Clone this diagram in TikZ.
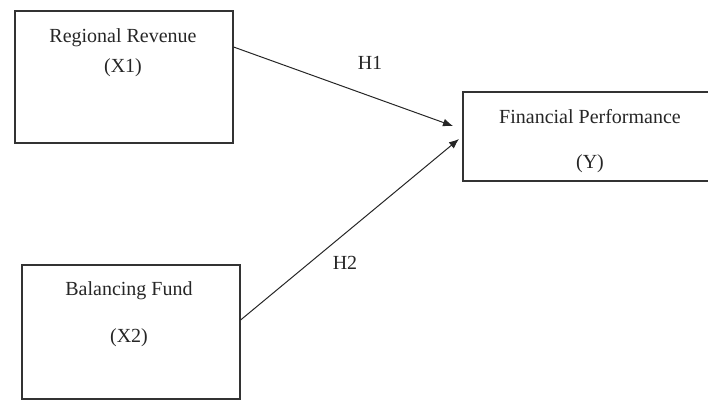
\documentclass[tikz,border=0pt]{standalone}
\usepackage{fontspec}
\setmainfont{Liberation Serif}
\usetikzlibrary{arrows.meta,positioning}

\tikzset{
    varbox/.style={draw=black!80, line width=0.6pt, rectangle, inner sep=0pt},
    vartext/.style={font=\fontsize{10}{12}\selectfont, text=black!85, inner sep=0pt},
    hyparrow/.style={-{Latex[length=5pt,width=4pt]}, line width=0.5pt, black!85}
}

\begin{document}
\begin{tikzpicture}[x=0.5pt,y=-0.5pt]
        \useasboundingbox (0,0) rectangle (708,401);

        % Define the boxes
        \node[varbox, minimum width=109pt, minimum height=66pt] (rev) at (124,77) {};
        \node[varbox, minimum width=127pt, minimum height=44.5pt] (perf) at (590,136.5) {};
        \node[varbox, minimum width=109pt, minimum height=67pt] (fund) at (131,332) {};

        % Texts inside the boxes
        \node[vartext] (rev-name) at (123,38) {Regional Revenue};
        \node[vartext] (rev-code) at (123,68) {(X1)};
        \node[vartext] (perf-name) at (590,117) {Financial Performance};
        \node[vartext] (perf-code) at (590,164) {(Y)};
        \node[vartext] (fund-name) at (129,291) {Balancing Fund};
        \node[vartext] (fund-code) at (129,338) {(X2)};

        % End points of the arrows
        \coordinate (h1-from) at (rev.east |- 0,47);
        \coordinate (h1-to) at (453,126);
        \coordinate (h2-from) at (fund.east |- 0,320);
        \coordinate (h2-to) at (459,139);

        % Draw arrows and labels
        \draw[hyparrow] (h1-from) -- (h1-to);
        \draw[hyparrow] (h2-from) -- (h2-to);
        \node[vartext] (h1) at (370,63) {H1};
        \node[vartext] (h2) at (345,263) {H2};
    \end{tikzpicture}
\end{document}
